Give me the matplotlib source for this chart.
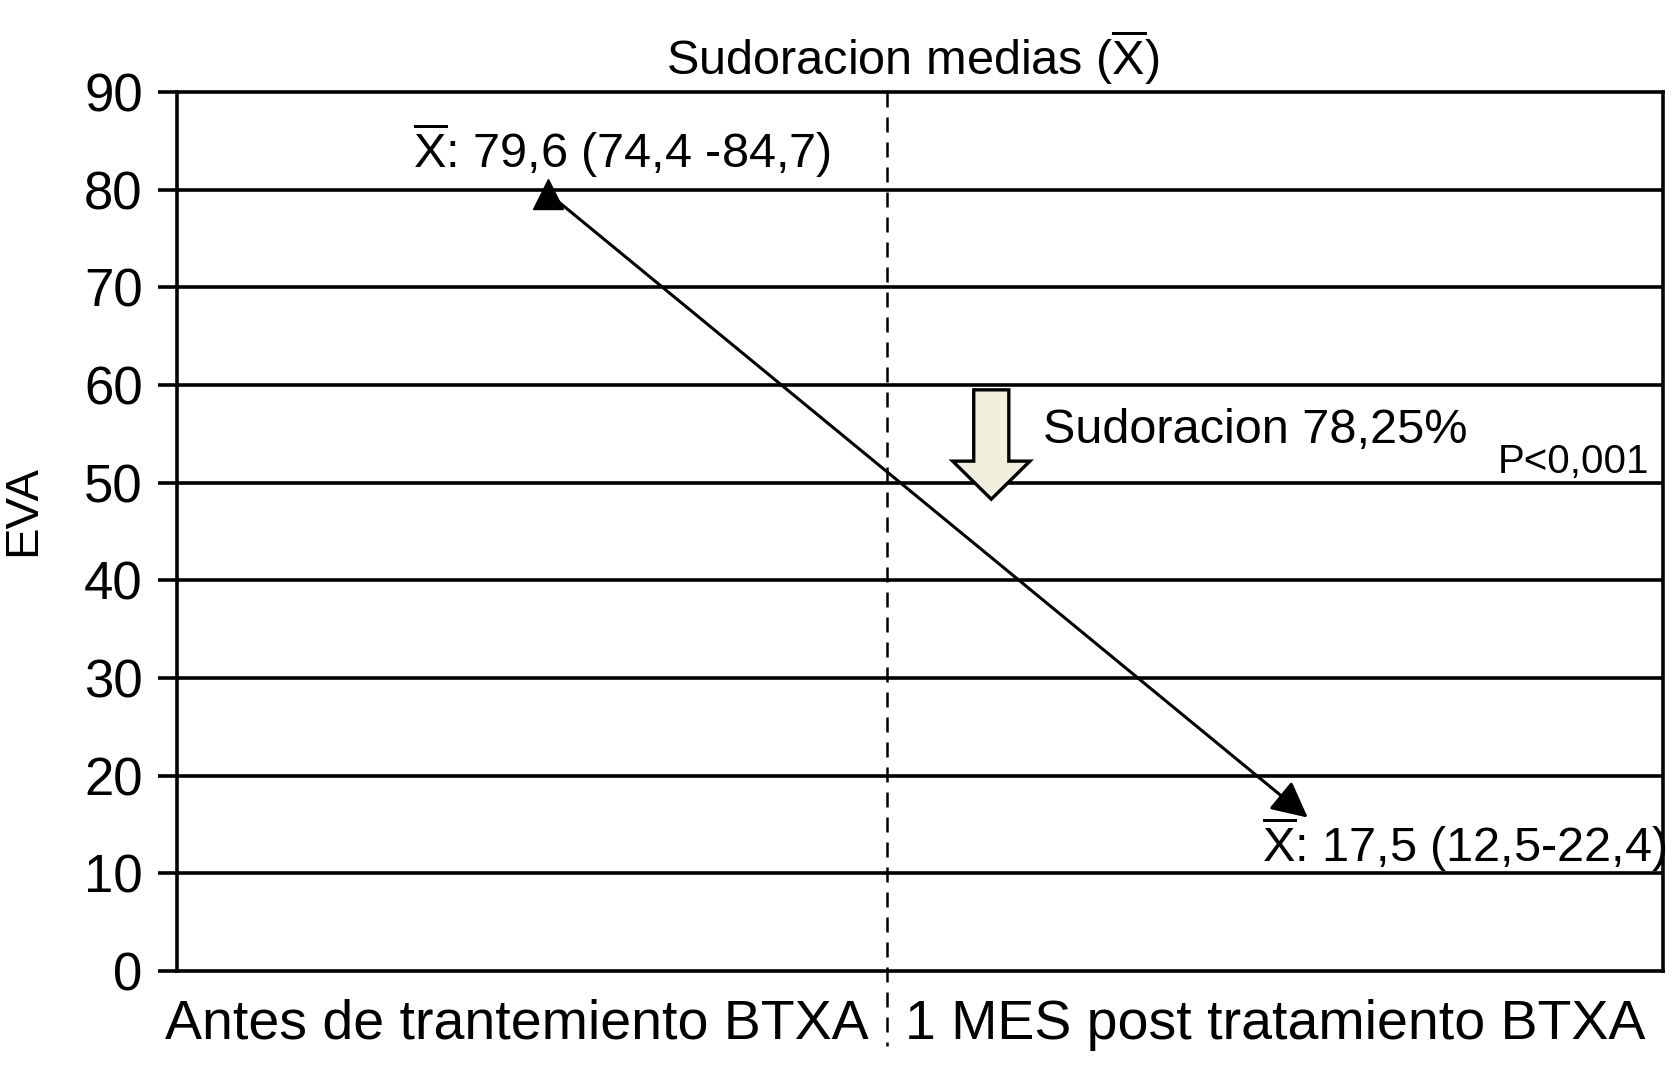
# Sudoracion medias antes / despues de BTXA (EVA)
import matplotlib
matplotlib.use('Agg')
import matplotlib.pyplot as plt
import matplotlib.transforms as mtransforms

plt.rcParams['font.family'] = ['Liberation Sans', 'DejaVu Sans']
plt.rcParams['mathtext.fontset'] = 'custom'
plt.rcParams['mathtext.rm'] = 'Liberation Sans'
plt.rcParams['mathtext.it'] = 'Liberation Sans:italic'

# --- DATOS ---
momentos = ['Antes de trantemiento BTXA', '1 MES post tratamiento BTXA']
medias = [79.6, 15.7]              # (inicio / punta de flecha)
etiquetas_medias = ['79,6 (74,4 -84,7)', '17,5 (12,5-22,4)']
reduccion = 'Sudoracion 78,25%'
p_valor = 'P<0,001'
flecha_bloque = [59.5, 48.3]       # inicio y punta de la flecha gruesa
y_ticks = list(range(0, 100, 10))

XBAR = r'$\overline{\mathrm{X}}$'


def main():
    fig = plt.figure(figsize=(16.74, 10.69), dpi=100)
    ax = fig.add_axes([0.1057, 0.0917, 0.8877, 0.8223])

    ax.set_xlim(0, 1)
    ax.set_ylim(0, 90)

    # lineas horizontales
    for y in y_ticks[1:-1]:
        ax.axhline(y, color='k', lw=2.6, zorder=1)

    for s in ax.spines.values():
        s.set_linewidth(2.6)
        s.set_color('k')

    ax.set_yticks(y_ticks)
    ax.tick_params(axis='y', length=13.7, width=2.6, pad=11, labelsize=38)
    ax.set_xticks([0.229, 0.739], momentos)
    ax.tick_params(axis='x', length=0, pad=20, labelsize=40)

    ax.set_title('Sudoracion medias (' + XBAR + ')', fontsize=35, pad=12, x=0.495)
    ax.set_ylabel('EVA', fontsize=34, va='center')
    ax.yaxis.set_label_coords(-0.1036, 0.524)

    # linea discontinua entre los dos momentos
    trans = mtransforms.blended_transform_factory(ax.transData, ax.transAxes)
    ax.plot([0.478, 0.478], [1, -0.085], transform=trans, color='k', lw=1.8,
            dashes=(6, 4), clip_on=False, zorder=2)

    # medias: triangulo -> flecha
    xs = [0.25, 0.761]
    ax.annotate('', xy=(xs[1], medias[1]), xytext=(xs[0], medias[0]),
                arrowprops=dict(arrowstyle='-|>', color='k', lw=2.2,
                                mutation_scale=55, shrinkA=0, shrinkB=0),
                zorder=4)
    ax.plot(xs[0], medias[0], marker='^', ms=21, color='k', zorder=5)

    ax.text(0.159, 82.2, XBAR + ': ' + etiquetas_medias[0], fontsize=35)
    ax.text(0.730, 11.2, XBAR + ': ' + etiquetas_medias[1], fontsize=35)

    # flecha gruesa de reduccion
    ax.arrow(0.548, flecha_bloque[0], 0, flecha_bloque[1] - flecha_bloque[0],
             width=0.0236, head_width=0.052, head_length=3.9,
             length_includes_head=True, facecolor='#f0f0dd', edgecolor='k',
             lw=2.4, zorder=3)
    ax.text(0.583, 54.1, reduccion, fontsize=35)
    ax.text(0.889, 51.0, p_valor, fontsize=29)

    fig.savefig('out.png', dpi=100)


if __name__ == "__main__":
    main()
